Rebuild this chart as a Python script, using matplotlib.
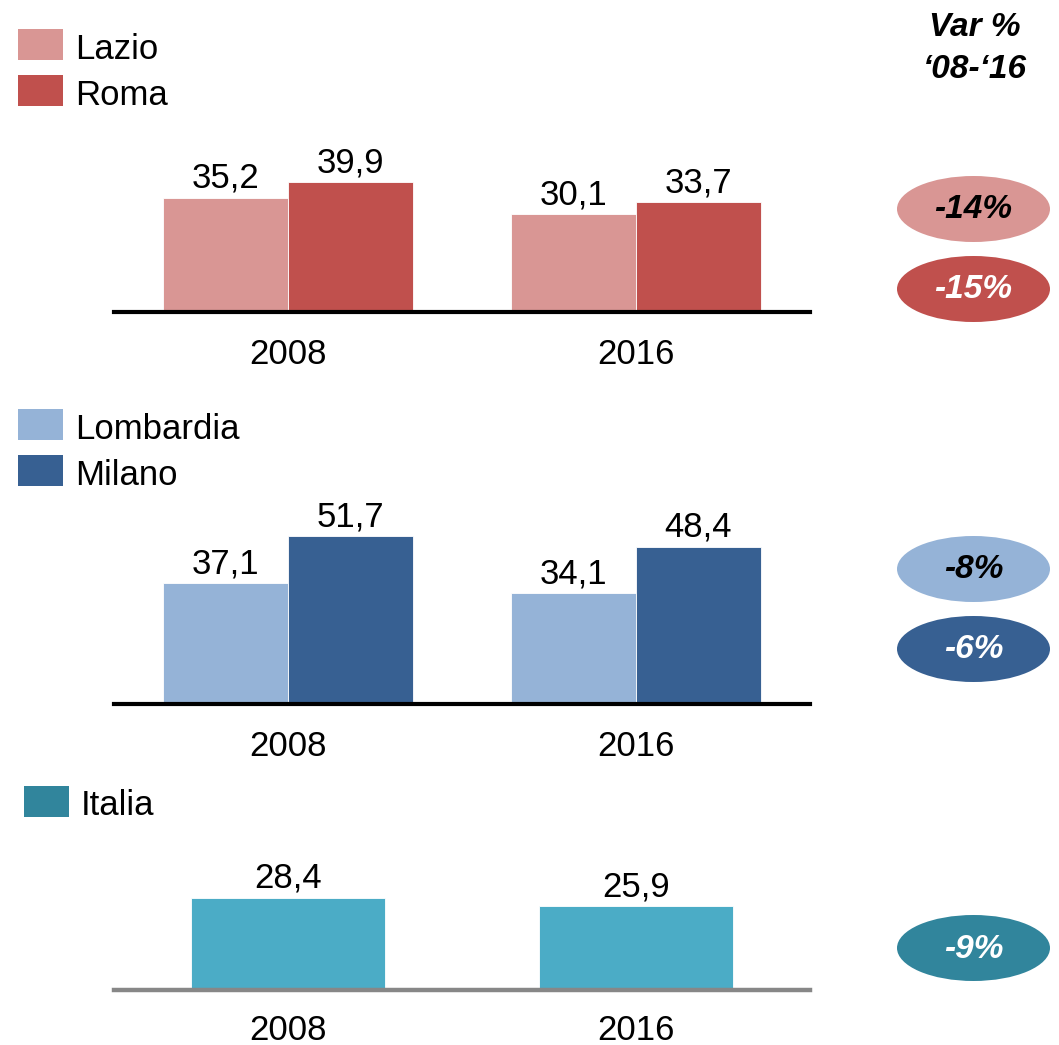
import numpy as np
import matplotlib
matplotlib.use("Agg")
import matplotlib.pyplot as plt
from matplotlib.patches import Ellipse, Rectangle

plt.rcParams["font.family"] = ["Liberation Sans", "DejaVu Sans"]

# data
years = ["2008", "2016"]
lazio = [35.2, 30.1]
roma = [39.9, 33.7]
lombardia = [37.1, 34.1]
milano = [51.7, 48.4]
italia = [28.4, 25.9]
var_labels = ["-14%", "-15%", "-8%", "-6%", "-9%"]

C_LAZIO = "#D99694"
C_ROMA = "#C0504D"
C_LOMB = "#95B3D7"
C_MIL = "#376092"
C_ITA_BAR = "#4BACC6"
C_ITA = "#31859C"

W, H = 1059, 1045
fig = plt.figure(figsize=(W / 100, H / 100), dpi=100)

PX_PER_UNIT = 3.25
AX_H = 200  # px


def fmt(v):
    return f"{v:.1f}".replace(".", ",")


def make_ax(baseline_px, pad=19):
    left, right = 114, 810
    ax = fig.add_axes([left / W, 1 - baseline_px / H, (right - left) / W, AX_H / H])
    ax.set_xlim(-0.5, 1.5)
    ax.set_ylim(0, AX_H / PX_PER_UNIT)
    for s in ["top", "left", "right"]:
        ax.spines[s].set_visible(False)
    ax.set_yticks([])
    ax.set_xticks(range(len(years)))
    ax.set_xticklabels(years, fontsize=25)
    ax.tick_params(axis="x", length=0, pad=pad)
    ax.patch.set_alpha(0)
    return ax


def labels(ax, bars):
    for b in bars:
        ax.annotate(fmt(b.get_height()), (b.get_x() + b.get_width() / 2, b.get_height()),
                    xytext=(0, 2), textcoords="offset points",
                    ha="center", va="bottom", fontsize=25)


x = np.arange(len(years))
w = 0.358

# panel 1 - Lazio / Roma
ax1 = make_ax(312)
b1 = ax1.bar(x - w / 2, lazio, w, color=C_LAZIO, edgecolor="white", linewidth=0.6)
b2 = ax1.bar(x + w / 2, roma, w, color=C_ROMA, edgecolor="white", linewidth=0.6)
ax1.spines["bottom"].set_linewidth(3)
ax1.spines["bottom"].set_color("black")
labels(ax1, b1)
labels(ax1, b2)

# panel 2 - Lombardia / Milano
ax2 = make_ax(704)
b3 = ax2.bar(x - w / 2, lombardia, w, color=C_LOMB, edgecolor="white", linewidth=0.6)
b4 = ax2.bar(x + w / 2, milano, w, color=C_MIL, edgecolor="white", linewidth=0.6)
ax2.spines["bottom"].set_linewidth(3)
ax2.spines["bottom"].set_color("black")
labels(ax2, b3)
labels(ax2, b4)

# panel 3 - Italia
ax3 = make_ax(990, pad=17)
b5 = ax3.bar(x, italia, 0.555, color=C_ITA_BAR, edgecolor="white", linewidth=0.6)
ax3.spines["bottom"].set_linewidth(3.2)
ax3.spines["bottom"].set_color("#878787")
labels(ax3, b5)

# overlay in pixel coords for legends and the variation column
ov = fig.add_axes([0, 0, 1, 1])
ov.set_xlim(0, W)
ov.set_ylim(H, 0)
ov.axis("off")
ov.patch.set_alpha(0)

# legends: (name, colour, square x, square top, text baseline)
leg_names = ["Lazio", "Roma", "Lombardia", "Milano", "Italia"]
leg_colors = [C_LAZIO, C_ROMA, C_LOMB, C_MIL, C_ITA]
leg_x = [18, 18, 18, 18, 24]
leg_top = [29, 75, 409, 455, 786]
leg_base = [59, 105, 439, 485, 815]
for name, c, lx, lt, lb in zip(leg_names, leg_colors, leg_x, leg_top, leg_base):
    ov.add_patch(Rectangle((lx, lt), 45, 31, facecolor=c, edgecolor="none"))
    ov.text(lx + 57, lb, name, ha="left", va="baseline", fontsize=25)

ov.text(975, 27, "Var %", ha="center", va="center", fontsize=24,
        fontweight="bold", fontstyle="italic")
ov.text(975, 70, "\u201808-\u201816", ha="center", va="center", fontsize=24,
        fontweight="bold", fontstyle="italic")

ell_y = [209, 289, 569, 649, 948]
ell_c = [C_LAZIO, C_ROMA, C_LOMB, C_MIL, C_ITA]
txt_c = ["black", "white", "black", "white", "white"]
for yy, fc, tc, lab in zip(ell_y, ell_c, txt_c, var_labels):
    ov.add_patch(Ellipse((973.5, yy), 153, 66, facecolor=fc, edgecolor="none"))
    ov.text(973.5, yy + 1, lab, ha="center", va="center", fontsize=24,
            fontweight="bold", fontstyle="italic", color=tc)

fig.savefig("out.png", dpi=100)
